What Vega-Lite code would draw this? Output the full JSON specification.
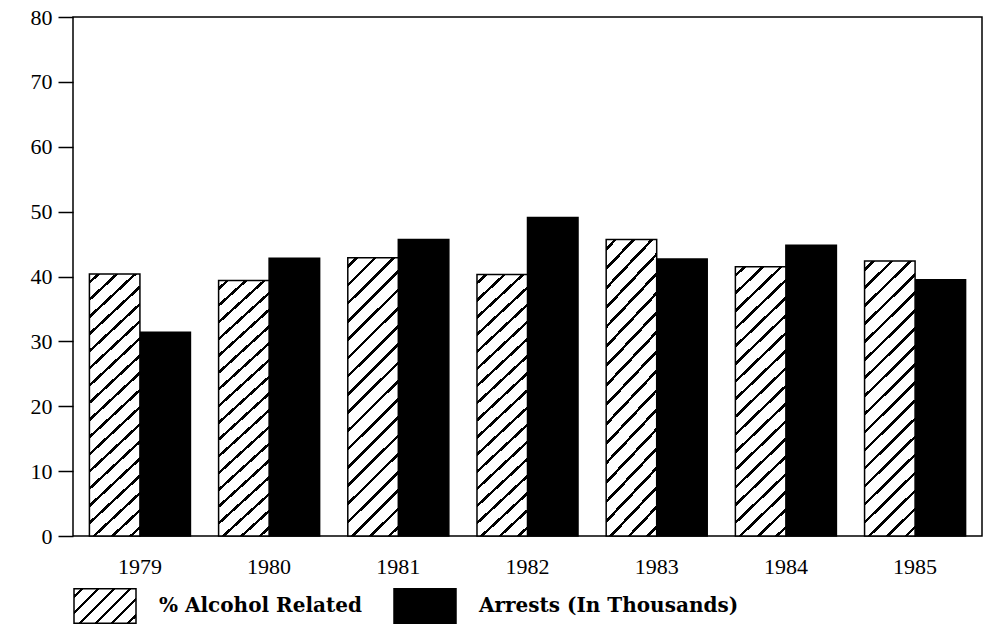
{
  "$schema": "https://vega.github.io/schema/vega-lite/v6.json",
  "width": 909,
  "height": 519,
  "autosize": "none",
  "padding": {"left": 73, "top": 17, "right": 8, "bottom": 89},
  "background": "white",
  "config": {
    "view": {"stroke": "black", "strokeWidth": 1.5},
    "font": "Liberation Serif",
    "legend": {
      "title": null,
      "orient": "none",
      "direction": "horizontal",
      "symbolType": "M-1,-0.56L1,-0.56L1,0.56L-1,0.56Z",
      "symbolSize": 3844,
      "symbolStrokeColor": "black",
      "symbolStrokeWidth": 1.5,
      "symbolOpacity": 1,
      "labelFont": "DejaVu Serif",
      "labelFontWeight": "bold",
      "labelFontSize": 20,
      "labelColor": "black",
      "labelOffset": 22,
      "labelLimit": 400
    }
  },
  "data": {
    "values": [
      {"year": "1979", "series": "% Alcohol Related", "value": 40.4},
      {"year": "1979", "series": "Arrests (In Thousands)", "value": 31.4},
      {"year": "1980", "series": "% Alcohol Related", "value": 39.4},
      {"year": "1980", "series": "Arrests (In Thousands)", "value": 42.8},
      {"year": "1981", "series": "% Alcohol Related", "value": 42.9},
      {"year": "1981", "series": "Arrests (In Thousands)", "value": 45.7},
      {"year": "1982", "series": "% Alcohol Related", "value": 40.3},
      {"year": "1982", "series": "Arrests (In Thousands)", "value": 49.1},
      {"year": "1983", "series": "% Alcohol Related", "value": 45.7},
      {"year": "1983", "series": "Arrests (In Thousands)", "value": 42.7},
      {"year": "1984", "series": "% Alcohol Related", "value": 41.5},
      {"year": "1984", "series": "Arrests (In Thousands)", "value": 44.8},
      {"year": "1985", "series": "% Alcohol Related", "value": 42.4},
      {"year": "1985", "series": "Arrests (In Thousands)", "value": 39.5}
    ]
  },
  "encoding": {
    "x": {
      "field": "year",
      "type": "ordinal",
      "scale": {"paddingInner": 0.218, "paddingOuter": 0.127},
      "axis": {
        "title": null,
        "labelAngle": 0,
        "domain": false,
        "ticks": false,
        "tickSize": 0,
        "labelPadding": 20,
        "labelFont": "Liberation Serif",
        "labelFontSize": 22,
        "labelColor": "black"
      }
    },
    "xOffset": {
      "field": "series",
      "type": "nominal",
      "scale": {"domain": ["% Alcohol Related", "Arrests (In Thousands)"], "paddingInner": 0}
    },
    "y": {
      "field": "value",
      "type": "quantitative",
      "scale": {"domain": [0, 80], "nice": false},
      "axis": {
        "title": null,
        "values": [0, 10, 20, 30, 40, 50, 60, 70, 80],
        "grid": false,
        "domain": false,
        "tickColor": "black",
        "tickSize": 15,
        "tickWidth": 1.5,
        "labelFont": "Liberation Serif",
        "labelFontSize": 22,
        "labelColor": "black",
        "labelPadding": 6
      }
    }
  },
  "layer": [
    {
      "transform": [{"filter": "datum.series === 'Arrests (In Thousands)'"}],
      "mark": {"type": "bar", "stroke": "black", "strokeWidth": 1.5, "opacity": 1},
      "encoding": {
        "fill": {
          "field": "series",
          "type": "nominal",
          "scale": {"domain": ["Arrests (In Thousands)"], "range": ["black"]},
          "legend": {"legendX": 320, "legendY": 557}
        }
      }
    },
    {
      "transform": [{"filter": "datum.series === '% Alcohol Related'"}],
      "mark": {
        "type": "bar",
        "stroke": "black",
        "strokeWidth": 1.5,
        "opacity": 1,
        "fill": {
          "gradient": "linear",
          "x1": 0, "y1": 0, "x2": 0.2057, "y2": 1.143,
          "stops": [
            {"offset": 0, "color": "white"},
            {"offset": 0.0222, "color": "white"}, {"offset": 0.0222, "color": "black"}, {"offset": 0.0334, "color": "black"}, {"offset": 0.0334, "color": "white"},
            {"offset": 0.0777, "color": "white"}, {"offset": 0.0777, "color": "black"}, {"offset": 0.0889, "color": "black"}, {"offset": 0.0889, "color": "white"},
            {"offset": 0.1333, "color": "white"}, {"offset": 0.1333, "color": "black"}, {"offset": 0.1445, "color": "black"}, {"offset": 0.1445, "color": "white"},
            {"offset": 0.1888, "color": "white"}, {"offset": 0.1888, "color": "black"}, {"offset": 0.2000, "color": "black"}, {"offset": 0.2000, "color": "white"},
            {"offset": 0.2444, "color": "white"}, {"offset": 0.2444, "color": "black"}, {"offset": 0.2556, "color": "black"}, {"offset": 0.2556, "color": "white"},
            {"offset": 0.3000, "color": "white"}, {"offset": 0.3000, "color": "black"}, {"offset": 0.3112, "color": "black"}, {"offset": 0.3112, "color": "white"},
            {"offset": 0.3555, "color": "white"}, {"offset": 0.3555, "color": "black"}, {"offset": 0.3667, "color": "black"}, {"offset": 0.3667, "color": "white"},
            {"offset": 0.4111, "color": "white"}, {"offset": 0.4111, "color": "black"}, {"offset": 0.4223, "color": "black"}, {"offset": 0.4223, "color": "white"},
            {"offset": 0.4666, "color": "white"}, {"offset": 0.4666, "color": "black"}, {"offset": 0.4778, "color": "black"}, {"offset": 0.4778, "color": "white"},
            {"offset": 0.5222, "color": "white"}, {"offset": 0.5222, "color": "black"}, {"offset": 0.5334, "color": "black"}, {"offset": 0.5334, "color": "white"},
            {"offset": 0.5777, "color": "white"}, {"offset": 0.5777, "color": "black"}, {"offset": 0.5889, "color": "black"}, {"offset": 0.5889, "color": "white"},
            {"offset": 0.6333, "color": "white"}, {"offset": 0.6333, "color": "black"}, {"offset": 0.6445, "color": "black"}, {"offset": 0.6445, "color": "white"},
            {"offset": 0.6888, "color": "white"}, {"offset": 0.6888, "color": "black"}, {"offset": 0.7000, "color": "black"}, {"offset": 0.7000, "color": "white"},
            {"offset": 0.7444, "color": "white"}, {"offset": 0.7444, "color": "black"}, {"offset": 0.7556, "color": "black"}, {"offset": 0.7556, "color": "white"},
            {"offset": 0.8000, "color": "white"}, {"offset": 0.8000, "color": "black"}, {"offset": 0.8112, "color": "black"}, {"offset": 0.8112, "color": "white"},
            {"offset": 0.8555, "color": "white"}, {"offset": 0.8555, "color": "black"}, {"offset": 0.8667, "color": "black"}, {"offset": 0.8667, "color": "white"},
            {"offset": 0.9111, "color": "white"}, {"offset": 0.9111, "color": "black"}, {"offset": 0.9223, "color": "black"}, {"offset": 0.9223, "color": "white"},
            {"offset": 0.9666, "color": "white"}, {"offset": 0.9666, "color": "black"}, {"offset": 0.9778, "color": "black"}, {"offset": 0.9778, "color": "white"},
            {"offset": 1, "color": "white"}
          ]
        }
      }
    },
    {
      "transform": [{"filter": "false"}],
      "mark": {
        "type": "bar",
        "strokeWidth": 1.5,
        "opacity": 1,
        "fill": {
          "gradient": "linear",
          "x1": 0, "y1": 0, "x2": 1.1865, "y2": 0.67,
          "stops": [
            {"offset": 0, "color": "white"},
            {"offset": 0.066, "color": "white"}, {"offset": 0.066, "color": "black"}, {"offset": 0.101, "color": "black"}, {"offset": 0.101, "color": "white"},
            {"offset": 0.2325, "color": "white"}, {"offset": 0.2325, "color": "black"}, {"offset": 0.2675, "color": "black"}, {"offset": 0.2675, "color": "white"},
            {"offset": 0.399, "color": "white"}, {"offset": 0.399, "color": "black"}, {"offset": 0.434, "color": "black"}, {"offset": 0.434, "color": "white"},
            {"offset": 0.566, "color": "white"}, {"offset": 0.566, "color": "black"}, {"offset": 0.601, "color": "black"}, {"offset": 0.601, "color": "white"},
            {"offset": 0.7325, "color": "white"}, {"offset": 0.7325, "color": "black"}, {"offset": 0.7675, "color": "black"}, {"offset": 0.7675, "color": "white"},
            {"offset": 0.899, "color": "white"}, {"offset": 0.899, "color": "black"}, {"offset": 0.934, "color": "black"}, {"offset": 0.934, "color": "white"},
            {"offset": 1, "color": "white"}
          ]
        }
      },
      "encoding": {
        "stroke": {
          "field": "series",
          "type": "nominal",
          "scale": {"domain": ["% Alcohol Related"], "range": ["black"]},
          "legend": {"legendX": 0, "legendY": 557}
        }
      }
    }
  ]
}
